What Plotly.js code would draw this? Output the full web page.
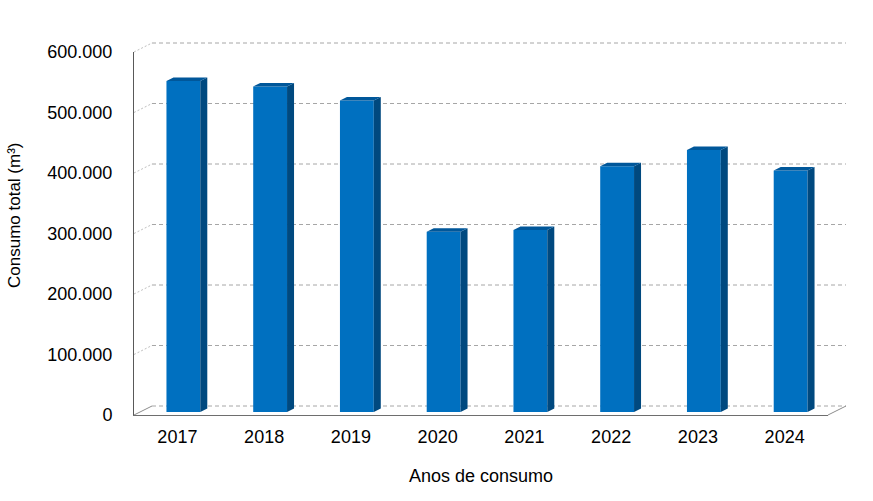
<!DOCTYPE html>
<html>
<head>
<meta charset="utf-8">
<script src="https://cdn.plot.ly/plotly-3.0.1.min.js"></script>
<style>html,body{margin:0;padding:0;background:#fff;}#chart{width:873px;height:501px;}</style>
</head>
<body>
<div id="chart"></div>
<script>
// ---- data ----
const years = ['2017', '2018', '2019', '2020', '2021', '2022', '2023', '2024'];
const consumo = [547000, 538000, 515000, 298000, 301000, 406000, 433000, 399000];
const yTicks = [0, 100000, 200000, 300000, 400000, 500000, 600000];

// ---- geometry (pixels) ----
const W = 873, H = 501;
const plotL = 134, plotR = 846, plotT = 43, plotB = 415;
const pw = plotR - plotL, ph = plotB - plotT;
const depthX = 18, depthY = 9;          // floor / wall depth
const frontW = pw - depthX, frontH = ph - depthY;
const barShiftX = 6, barShiftY = 3;     // bar front plane inside the depth
const barDX = 7, barDY = 3.5;           // bar thickness (depth)
const yMax = 600000;
const barW = 0.39;

const idx = years.map((_, i) => i);
const pxPerX = frontW / years.length;
const pxPerY = frontH / yMax;
const dxData = barDX / pxPerX;
const dyData = barDY / pxPerY;

const yf = v => (v / yMax) * frontH / ph;
const yb = v => depthY / ph + yf(v);
const xBackL = depthX / pw;

// faces
const sideX = [], sideY = [], topX = [], topY = [];
idx.forEach(i => {
  const v = consumo[i];
  const xl = i - barW / 2, xr = i + barW / 2;
  sideX.push(xr, xr, xr + dxData, xr + dxData, xr, null);
  sideY.push(0, v, v + dyData, dyData, 0, null);
  topX.push(xl, xr, xr + dxData, xl + dxData, xl, null);
  topY.push(v, v, v + dyData, v + dyData, v, null);
});

const traces = [
  {type: 'bar', x: idx, y: consumo, width: barW, xaxis: 'x', yaxis: 'y',
   marker: {color: '#0070C0', line: {width: 0}}, hoverinfo: 'y'},
  {type: 'scatter', x: sideX, y: sideY, fill: 'toself', mode: 'lines',
   line: {width: 0, color: '#00497F'}, fillcolor: '#00497F', hoverinfo: 'skip', xaxis: 'x', yaxis: 'y'},
  {type: 'scatter', x: topX, y: topY, fill: 'toself', mode: 'lines',
   line: {width: 0, color: '#00579A'}, fillcolor: '#00579A', hoverinfo: 'skip', xaxis: 'x', yaxis: 'y'},
  {type: 'scatter', x: idx, y: consumo, mode: 'markers', marker: {size: 0, opacity: 0},
   hoverinfo: 'skip', xaxis: 'x2', yaxis: 'y2'}
];

const shapes = [];
yTicks.forEach(v => {
  shapes.push({type: 'line', xref: 'paper', yref: 'paper', x0: xBackL, x1: 1, y0: yb(v), y1: yb(v),
    line: {color: '#a6a6a6', width: 1, dash: '4px,3px'}, layer: 'below'});
  shapes.push({type: 'line', xref: 'paper', yref: 'paper', x0: 0, x1: xBackL, y0: yf(v), y1: yb(v),
    line: v === 0 ? {color: '#8c8c8c', width: 1} : {color: '#bfbfbf', width: 1, dash: '2px,2px'}, layer: 'below'});
});
shapes.push({type: 'line', xref: 'paper', yref: 'paper', x0: frontW / pw, x1: 1, y0: 0, y1: yb(0),
  line: {color: '#8c8c8c', width: 1}, layer: 'below'});

const font = {family: 'Liberation Sans, Arial, sans-serif', size: 18, color: '#000'};

const layout = {
  width: W, height: H,
  margin: {l: plotL, r: W - plotR, t: plotT, b: H - plotB, pad: 0},
  paper_bgcolor: '#fff', plot_bgcolor: 'rgba(0,0,0,0)',
  showlegend: false,
  separators: ',.',
  font: font,
  xaxis: {domain: [barShiftX / pw, (barShiftX + frontW) / pw], range: [-0.5, years.length - 0.5],
          visible: false, fixedrange: true, anchor: 'y'},
  yaxis: {domain: [barShiftY / ph, (barShiftY + frontH) / ph], range: [0, yMax],
          visible: false, fixedrange: true, anchor: 'x'},
  xaxis2: {domain: [0, frontW / pw], range: [-0.5, years.length - 0.5], anchor: 'y2',
           tickvals: idx, ticktext: years, ticks: '', showgrid: false, zeroline: false,
           showline: true, linecolor: '#6e6e6e', linewidth: 1, ticklabelstandoff: 5,
           tickfont: font, title: {text: 'Anos de consumo', font: font, standoff: 23}},
  yaxis2: {domain: [0, frontH / ph], range: [0, yMax], anchor: 'x2',
           tickvals: yTicks, tickformat: ',.0f', ticks: '', showgrid: false, zeroline: false,
           showline: true, linecolor: '#595959', linewidth: 1, ticklabelstandoff: 17,
           tickfont: font},
  annotations: [{text: 'Consumo total (m³)', xref: 'paper', yref: 'paper', textangle: -90,
    x: (14 - plotL) / pw, y: (plotB - 216) / ph, xanchor: 'center', yanchor: 'middle',
    showarrow: false, font: {family: font.family, size: 17, color: '#000'}}],
  shapes: shapes
};

Plotly.newPlot('chart', traces, layout, {displayModeBar: false, staticPlot: true});
</script>
</body>
</html>
